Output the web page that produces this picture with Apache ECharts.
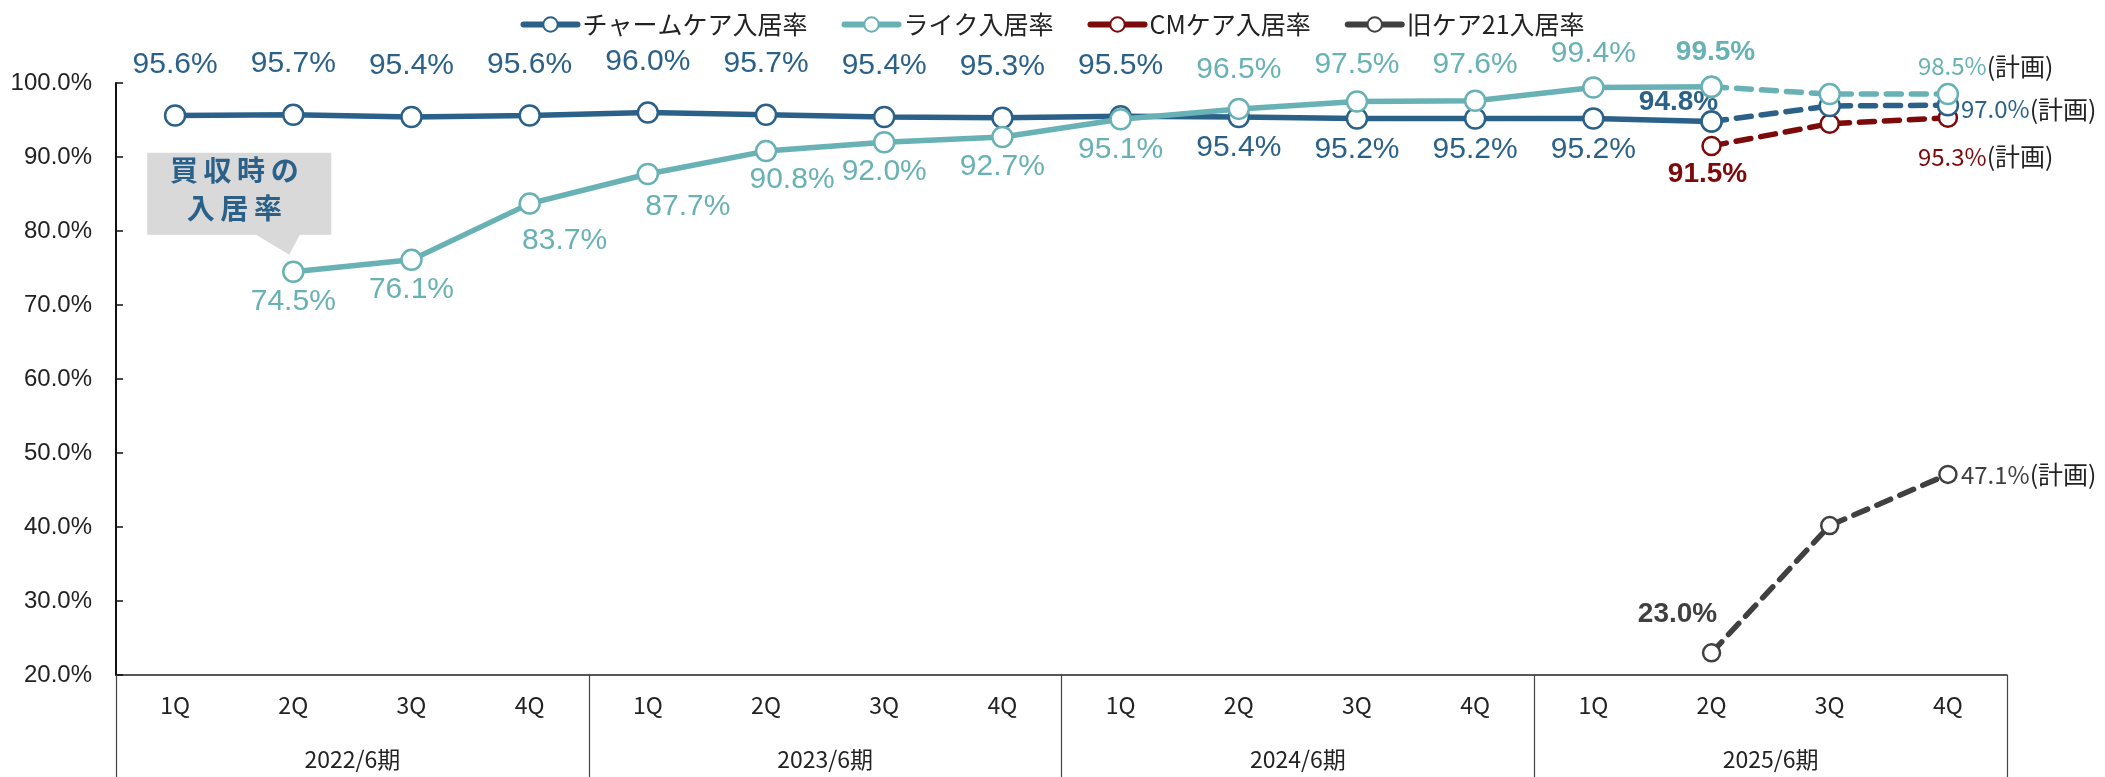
<!DOCTYPE html>
<html>
<head>
<meta charset="utf-8">
<script src="https://cdn.jsdelivr.net/npm/echarts@6/dist/echarts.min.js"></script>
<style>
html,body{margin:0;padding:0;background:#fff;}
#c{width:2105px;height:777px;}
</style>
</head>
<body>
<div id="c"></div>
<script>
// ---- data ----
const quarters = ['1Q','2Q','3Q','4Q','1Q','2Q','3Q','4Q','1Q','2Q','3Q','4Q','1Q','2Q','3Q','4Q'];
const fiscalYears = ['2022/6期','2023/6期','2024/6期','2025/6期'];
const seriesNames = ['チャームケア入居率','ライク入居率','CMケア入居率','旧ケア21入居率'];
const charmActual = [95.6,95.7,95.4,95.6,96.0,95.7,95.4,95.3,95.5,95.4,95.2,95.2,95.2,94.8,null,null];
const charmPlan   = [null,null,null,null,null,null,null,null,null,null,null,null,null,94.8,96.9,97.0];
const likeActual  = [null,74.5,76.1,83.7,87.7,90.8,92.0,92.7,95.1,96.5,97.5,97.6,99.4,99.5,null,null];
const likePlan    = [null,null,null,null,null,null,null,null,null,null,null,null,null,99.5,98.5,98.5];
const cmPlan      = [null,null,null,null,null,null,null,null,null,null,null,null,null,91.5,94.5,95.3];
const oldPlan     = [null,null,null,null,null,null,null,null,null,null,null,null,null,23.0,40.2,47.1];
const yMin = 20, yMax = 100, yStep = 10;
const planSuffix = '(計画)';
const calloutLines = ['買\u2009収\u2009時\u2009の','入\u2009居\u2009率'];

// ---- styles ----
const C_CHARM = '#2b6189', C_LIKE = '#68b1b5', C_CM = '#7c0a0a', C_OLD = '#404040';
const F_NUM = "'Liberation Sans', Arial, sans-serif";
const F_JP = "'Noto Sans CJK JP', sans-serif";

// label style per series: index -> [dx, dy, kind]
const charmLab = {};
for (let i = 0; i <= 8; i++) charmLab[i] = [0, -51];
for (let i = 9; i <= 12; i++) charmLab[i] = [0, 31];
charmLab[13] = [-33, -19, 'bold'];
const charmPlanLab = {15: [13, 4, 'planL']};
const likeLab = {1:[0,30],2:[0,30],3:[35,37],4:[40,33],5:[26,29],6:[0,30],7:[0,30],8:[0,30],
  9:[0,-39],10:[0,-37],11:[0,-36],12:[0,-34],13:[4,-34,'bold']};
const likePlanLab = {15: [-30, -28, 'planL']};
const cmLab = {13: [-4, 28, 'bold'], 15: [-30, 39, 'planL']};
const oldLab = {13: [-34, -39, 'bold'], 15: [13, 0, 'planL']};

function buildData(values, labs, color) {
  return values.map((v, i) => {
    if (v === null) return null;
    const l = labs[i];
    if (!l) return {value: v};
    const kind = l[2];
    const lab = {
      show: true, position: 'inside', offset: [l[0], l[1]],
      color: color, align: 'center', verticalAlign: 'middle'
    };
    if (kind === 'planL') {
      lab.align = 'left';
      lab.formatter = '{v|' + v.toFixed(1) + '%}{p|' + planSuffix + '}';
      lab.rich = {
        v: {fontFamily: F_JP, fontSize: 24, color: color},
        p: {fontFamily: F_JP, fontSize: 25, color: '#222'}
      };
    } else {
      lab.formatter = v.toFixed(1) + '%';
      lab.fontFamily = F_NUM;
      lab.fontSize = kind === 'bold' ? 28 : 30;
      lab.fontWeight = kind === 'bold' ? 'bold' : 'normal';
    }
    return {value: v, label: lab};
  });
}

function lineSeries(name, values, labs, color, dashed, size, z) {
  return {
    type: 'line', name: name, data: buildData(values, labs, color),
    symbol: 'circle', symbolSize: size, showAllSymbol: true,
    lineStyle: {color: color, width: 5.5, type: dashed ? [15, 10] : 'solid', cap: 'round'},
    itemStyle: {color: '#fff', borderColor: color, borderWidth: 2.5},
    label: {show: false},
    emphasis: {disabled: true},
    animation: false, z: z
  };
}

const chart = echarts.init(document.getElementById('c'), null, {renderer: 'canvas'});
const option = {
  animation: false,
  backgroundColor: '#fff',
  legend: {
    data: seriesNames, top: 7, left: 'center', itemGap: 34,
    itemWidth: 54, itemHeight: 18,
    textStyle: {fontFamily: F_JP, fontSize: 25, color: '#222'},
    lineStyle: {type: 'solid', width: 6}
  },
  grid: {left: 116, right: 98, top: 83, bottom: 102, containLabel: false},
  xAxis: [
    {
      type: 'category', data: quarters, boundaryGap: true, position: 'bottom',
      axisLine: {show: true, lineStyle: {color: '#222', width: 1.5}},
      axisTick: {show: false},
      axisLabel: {margin: 19, fontFamily: F_JP, fontSize: 23, color: '#222', interval: 0},
      splitLine: {show: false}
    },
    {
      type: 'category', data: fiscalYears, boundaryGap: true, position: 'bottom',
      axisLine: {show: false},
      axisTick: {show: true, length: 104, interval: 0, lineStyle: {color: '#444', width: 1.2}},
      axisLabel: {margin: 73, fontFamily: F_JP, fontSize: 23, color: '#222', interval: 0},
      splitLine: {show: false}
    }
  ],
  yAxis: {
    type: 'value', min: yMin, max: yMax, interval: yStep,
    axisLine: {show: true, lineStyle: {color: '#111', width: 2}},
    axisTick: {show: true, inside: true, length: 7, lineStyle: {color: '#111', width: 1.5}},
    axisLabel: {margin: 24, fontFamily: F_NUM, fontSize: 24, color: '#222',
      formatter: v => v.toFixed(1) + '%'},
    splitLine: {show: false}
  },
  series: [
    lineSeries(seriesNames[0], charmActual, charmLab, C_CHARM, false, 20, 3),
    lineSeries(seriesNames[1], likeActual, likeLab, C_LIKE, false, 20, 4),
    lineSeries(seriesNames[2], cmPlan, cmLab, C_CM, true, 18, 3),
    lineSeries(seriesNames[3], oldPlan, oldLab, C_OLD, true, 17, 3),
    lineSeries(seriesNames[0], charmPlan, charmPlanLab, C_CHARM, true, 20, 3),
    lineSeries(seriesNames[1], likePlan, likePlanLab, C_LIKE, true, 20, 4)
  ]
};
chart.setOption(option);

// callout bubble anchored to the first ライク point via the chart's own scales
const p = chart.convertToPixel({xAxisIndex: 0, yAxisIndex: 0}, [1, likeActual[1]]);
chart.setOption({
  graphic: [{
    type: 'group', x: p[0], y: p[1], z: 100,
    children: [
      {type: 'rect', shape: {x: -146, y: -119, width: 184, height: 82}, style: {fill: '#d9d9d9'}},
      {type: 'polygon', shape: {points: [[-39, -38], [7, -38], [-4, -17]]}, style: {fill: '#d9d9d9'}},
      {type: 'text', x: -59, y: -101, style: {text: calloutLines[0], fill: C_CHARM,
        font: "bold 28px 'Noto Sans CJK JP'", align: 'center', verticalAlign: 'middle'}},
      {type: 'text', x: -59, y: -63, style: {text: calloutLines[1], fill: C_CHARM,
        font: "bold 28px 'Noto Sans CJK JP'", align: 'center', verticalAlign: 'middle'}}
    ]
  }]
});
</script>
</body>
</html>
